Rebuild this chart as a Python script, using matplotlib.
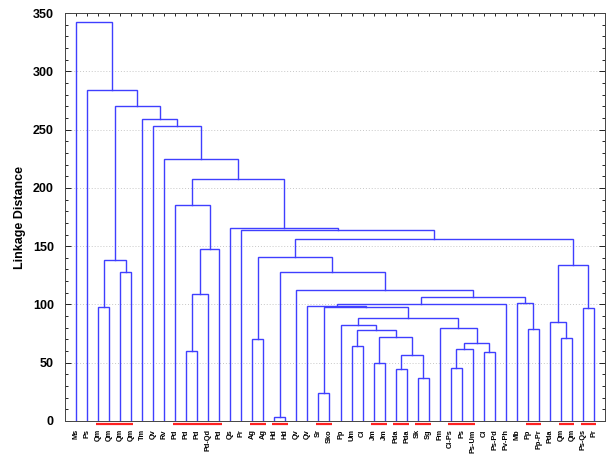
import matplotlib
matplotlib.use("Agg")
import matplotlib.pyplot as plt
import matplotlib.transforms as mtransforms
from matplotlib.ticker import MultipleLocator

## leaf labels (left to right)
leaf_labels = ["Ms", "Ps", "Qm", "Qm", "Qm", "Qm", "Tm", "Qv", "Rv", "Pd", "Pd", "Pd",
               "Pd-Qd", "Pd", "Qs", "Pr", "Ag", "Ag", "Hd", "Hd", "Qv", "Qv", "Sr", "Sko",
               "Pp", "Um", "Cl", "Jm", "Jm", "Pda", "Pda", "Sk", "Sg", "Fm", "Cl-Ps", "Ps",
               "Ps-Um", "Cl", "Ps-Pd", "Pv-Ph", "Mb", "Pp", "Pp-Pr", "Pda", "Qm", "Qm",
               "Ps-Qs", "Pr"]

## merges: node ids < 48 are leaves, merge k creates node 48 + k
merge_left = [18, 22, 31, 29, 34, 27, 51, 37, 10, 52, 25, 57, 16, 44, 53, 58, 41, 33,
              24, 43, 66, 46, 49, 2, 21, 72, 40, 73, 56, 20, 48, 4, 67, 71, 60, 76,
              82, 15, 14, 9, 87, 8, 7, 6, 81, 1, 0]
merge_right = [19, 23, 32, 30, 35, 28, 50, 38, 11, 36, 26, 55, 17, 45, 54, 62, 42, 59,
               63, 61, 65, 47, 68, 3, 70, 39, 64, 74, 12, 75, 77, 5, 69, 79, 78, 13,
               80, 84, 85, 83, 86, 88, 89, 90, 91, 92, 93]
merge_height = [3.2, 24.3, 36.9, 44.4, 45.8, 49.5, 56.4, 59.0, 59.8, 61.5, 64.4, 66.7,
                70.1, 71.2, 71.8, 78.1, 78.7, 79.6, 82.4, 85.3, 88.2, 96.7, 97.6, 98.1,
                99.0, 100.4, 100.8, 106.7, 109.3, 112.4, 127.6, 128.2, 133.6, 138.5,
                141.0, 147.4, 156.0, 163.9, 165.4, 185.6, 207.5, 224.9, 253.2, 259.2,
                270.1, 283.9, 342.2]

## groups of leaves underlined in red (first leaf, last leaf)
red_start = [2, 9, 16, 18, 22, 27, 29, 31, 34, 41, 44, 46]
red_end = [5, 13, 17, 19, 23, 28, 30, 32, 36, 42, 45, 47]

## figure
plt.rcParams['font.family'] = ['Liberation Sans', 'DejaVu Sans']
fig = plt.figure(figsize=(6.08, 4.55), dpi=100)
ax = fig.add_axes([0.107, 0.075, 0.888, 0.896])

## draw dendrogram links
pos = [float(i) for i in range(len(leaf_labels))]
hgt = [0.0] * len(leaf_labels)
for l, r, h in zip(merge_left, merge_right, merge_height):
    xl, xr = pos[l], pos[r]
    ax.plot([xl, xl, xr, xr], [hgt[l], h, h, hgt[r]], color='#3f3fff', lw=1.0,
            solid_joinstyle='miter', zorder=3)
    pos.append((xl + xr) / 2.0)
    hgt.append(h)

## red underlines below the axis
trans = mtransforms.blended_transform_factory(ax.transData, ax.transAxes)
for s, e in zip(red_start, red_end):
    ax.plot([s - 0.2, e + 0.2], [-0.007, -0.007], color='#ff2020', lw=1.6,
            transform=trans, clip_on=False, solid_capstyle='butt')

## axes
ax.set_xlim(-1, 48)
ax.set_ylim(0, 350)
ax.set_xticks(range(len(leaf_labels)))
ax.set_xticklabels(leaf_labels, rotation=90, fontsize=5.3, fontweight='bold')
ax.yaxis.set_major_locator(MultipleLocator(50))
ax.yaxis.set_minor_locator(MultipleLocator(10))
for lab in ax.get_yticklabels():
    lab.set_fontweight('bold')
ax.tick_params(axis='y', which='major', direction='in', length=4, labelsize=9,
               left=True, right=True, pad=8, width=0.6)
ax.tick_params(axis='y', which='minor', direction='in', length=2, left=True,
               right=True, width=0.6)
ax.tick_params(axis='x', direction='in', length=2, top=True, bottom=True, pad=6,
               width=0.6)
ax.set_ylabel("Linkage Distance", fontsize=9, fontweight='bold', labelpad=5)

## grid
for y in range(50, 350, 50):
    ax.axhline(y, color='#c8c8c8', lw=0.7, ls=(0, (1, 2)), zorder=1)

for sp in ax.spines.values():
    sp.set_linewidth(0.7)
    sp.set_color('#444444')

fig.savefig("out.png", dpi=100)
